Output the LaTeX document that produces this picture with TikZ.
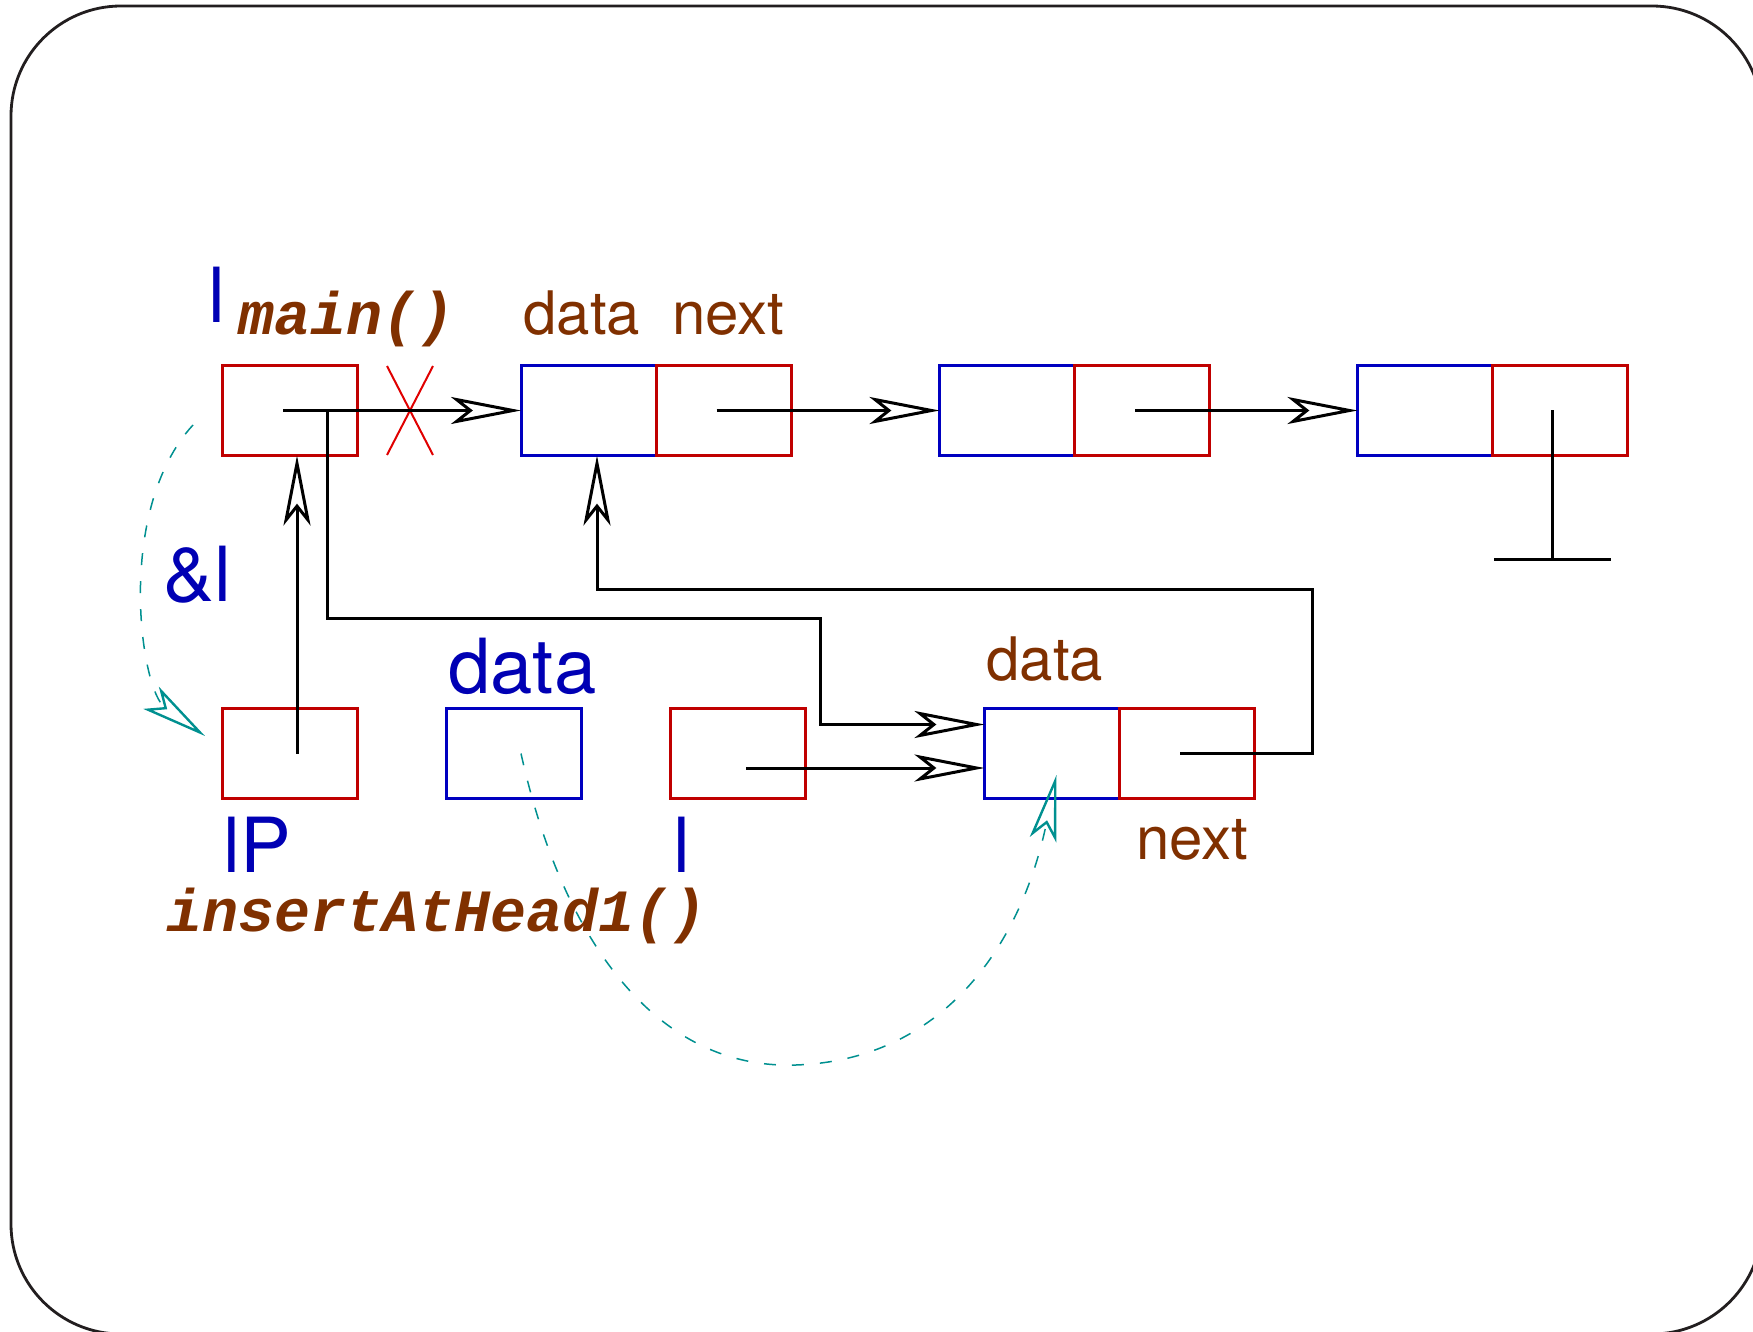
\documentclass[tikz,border=0pt]{standalone}
\usepackage{fontspec}
\setmainfont{TeX Gyre Heros}
\newfontfamily\codefont{Liberation Mono}
\usetikzlibrary{arrows.meta}
\definecolor{boxred}{RGB}{192,0,0}
\definecolor{boxblue}{RGB}{0,0,192}
\definecolor{lblblue}{RGB}{0,0,180}
\definecolor{lblbrown}{RGB}{128,48,0}
\definecolor{tealc}{RGB}{0,144,144}
\definecolor{xred}{RGB}{224,0,0}
\definecolor{framec}{RGB}{34,30,31}
\begin{document}
\begin{tikzpicture}[x=0.5pt,y=-0.5pt,
  cell/.style={draw, line width=1.5pt, minimum width=67.5pt, minimum height=45pt, inner sep=0pt, outer sep=0pt},
  ptrcell/.style={cell, draw=boxred},
  datacell/.style={cell, draw=boxblue},
  link/.style={line width=1.5pt, -{Stealth[open, length=35pt, width=13.5pt, inset=8.5pt]}},
  plain/.style={line width=1.5pt},
  hint/.style={tealc, line width=0.75pt, dash pattern=on 6pt off 8pt, -{Stealth[open, length=33pt, width=13.5pt, inset=8pt, line width=1.2pt]}},
  bigblue/.style={text=lblblue, font=\fontsize{38}{40}\selectfont, inner sep=0pt, anchor=base west},
  brownlbl/.style={text=lblbrown, font=\fontsize{30}{32}\selectfont, inner sep=0pt, anchor=base west},
  codelbl/.style={text=lblbrown, font=\codefont\bfseries\itshape\fontsize{30}{32}\selectfont, inner sep=0pt, anchor=base west}
]
\useasboundingbox (0,0) rectangle (1753,1332);
% frame
\draw[framec, line width=1.4pt, rounded corners=55pt] (11,6) rectangle (1762,1334);

% top row cells
\node[ptrcell] (lp) at (290,410.5) {};
\node[datacell] (n1d) at (588.5,410.5) {};
\node[ptrcell] (n1n) at (723.5,410.5) {};
\node[datacell] (n2d) at (1007,410.5) {};
\node[ptrcell] (n2n) at (1142,410.5) {};
\node[datacell] (n3d) at (1425,410.5) {};
\node[ptrcell] (n3n) at (1560,410.5) {};

% bottom row cells
\node[ptrcell] (ip) at (290,753.5) {};
\node[datacell] (db) at (514,753.5) {};
\node[ptrcell] (lb) at (738,753.5) {};
\node[datacell] (nnd) at (1052,753.5) {};
\node[ptrcell] (nnn) at (1187,753.5) {};

% labels
\node[bigblue] (tl) at (208,323) {l};
\node[codelbl] (tmain) at (238,335) {main()};
\node[brownlbl] (tdata) at (523,335) {data};
\node[brownlbl] (tnext) at (672,335) {next};
\node[bigblue] (tamp) at (163,601) {\&l};
\node[bigblue] (tdb) at (448,693) {data};
\node[brownlbl] (tnd) at (986,680) {data};
\node[bigblue] (tip) at (223,872) {lP};
\node[bigblue] (tlb) at (673,872) {l};
\node[brownlbl] (tnn) at (1136,859) {next};
\node[codelbl] (tins) at (166,931) {insertAtHead1()};

% crossed-out link
\draw[xred, line width=1pt] (387,366) -- (433,455) (433,366) -- (387,455);

% links
\draw[link] ([xshift=-3.5pt]lp.center) -- (n1d.west);
\draw[link] ([xshift=-3.5pt]n1n.center) -- (n2d.west);
\draw[link] ([xshift=-3.5pt]n2n.center) -- (n3d.west);
\coordinate (gnd) at (1552,559);
\coordinate (gndL) at (1494,559);
\coordinate (gndR) at (1611,559);
\draw[plain] ([xshift=-4pt]n3n.center) -- (gnd);
\draw[plain] (gndL) -- (gndR);

\draw[link] ([xshift=3.5pt]ip.center) -- ([xshift=3.5pt]lp.south);

\coordinate (tap) at (327.6,410.5);
\draw[link] (tap) -- (327.6,618) -- (820.6,618) -- (820.6,724.5) -- ([yshift=14.5pt]nnd.west);
\draw[link] ([xshift=4pt,yshift=-7.25pt]lb.center) -- ([yshift=-7.25pt]nnd.west);
\draw[link] ([xshift=-3.5pt]nnn.center) -- (1312.5,753.5) -- (1312.5,589) -- (597,589) -- ([xshift=4.25pt]n1d.south);

% hint curves
\coordinate (hA0) at (193,425);
\coordinate (hA1) at (205,736);
\draw[hint] (hA0) .. controls (115,510) and (140,690) .. (hA1);
\coordinate (hB1) at (1056.5,775);
\draw[hint] ([xshift=3.5pt]db.center) .. controls (560,930) and (650,1070) .. (796,1065) .. controls (940,1060) and (1020,950) .. (hB1);
\end{tikzpicture}
\end{document}
